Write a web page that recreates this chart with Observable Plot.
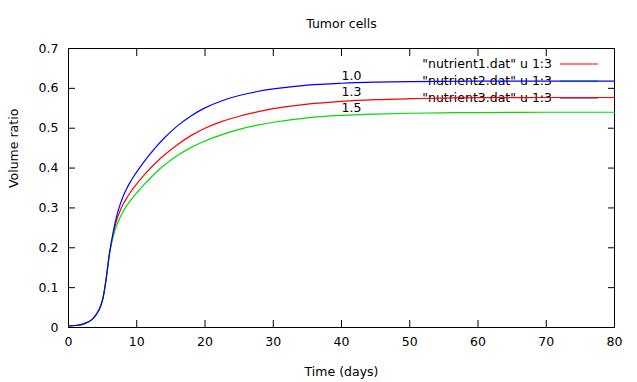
<!DOCTYPE html>
<html><head><meta charset="utf-8">
<script src="https://cdn.jsdelivr.net/npm/d3@7"></script>
<script src="https://cdn.jsdelivr.net/npm/@observablehq/plot@0.6"></script>
<style>body{margin:0;background:#fff} #chart svg{font-family:"DejaVu Sans",sans-serif;}</style>
</head><body><div id="chart"></div>
<script>
const title = "Tumor cells";
const xLabel = "Time (days)";
const yLabel = "Volume ratio";
const time = [0,1,2,2.5,3,3.5,4,4.5,5,5.5,6,6.5,7,7.5,8,8.5,9,9.5,10,11,12,13,14,16,18,20,22.5,25,27.5,30,35,40,45,50,55,60,70,80];
// red curve (middle)
const nutrient1 = [0.004,0.005,0.008,0.011,0.015,0.021,0.031,0.045,0.07,0.12,0.185,0.23,0.2665,0.2905,0.309,0.324,0.3375,0.3495,0.3605,0.3808,0.3995,0.4165,0.432,0.459,0.482,0.5,0.517,0.53,0.5405,0.549,0.5605,0.5675,0.5717,0.574,0.5755,0.5765,0.577,0.577];
// green curve (bottom)
const nutrient2 = [0.004,0.005,0.008,0.011,0.015,0.021,0.031,0.045,0.07,0.12,0.185,0.225,0.253,0.274,0.291,0.305,0.317,0.328,0.338,0.357,0.375,0.392,0.407,0.432,0.452,0.468,0.484,0.497,0.507,0.515,0.526,0.532,0.5355,0.5375,0.5387,0.5393,0.54,0.54];
// blue curve (top)
const nutrient3 = [0.004,0.005,0.008,0.011,0.015,0.021,0.031,0.045,0.07,0.12,0.185,0.235,0.275,0.305,0.3285,0.3475,0.3635,0.3775,0.3905,0.4145,0.4365,0.4565,0.4747,0.5065,0.5315,0.551,0.569,0.582,0.5915,0.5985,0.608,0.6128,0.6155,0.617,0.6177,0.618,0.618,0.618];
const seriesNames = ['"nutrient1.dat" u 1:3','"nutrient2.dat" u 1:3','"nutrient3.dat" u 1:3'];
const seriesColors = ["#ff0000","#00dd00","#0000ff"];
const labelTexts = ["1.0","1.3","1.5"];
const labelX = [40,40,40];
const labelY = [0.63,0.59,0.551];
const xTicks = [0,10,20,30,40,50,60,70,80];
const yTicks = [0,0.1,0.2,0.3,0.4,0.5,0.6,0.7];

const seriesValues = [nutrient1, nutrient2, nutrient3];
const data = seriesValues.flatMap((vals, i) => vals.map((v, j) => ({t: time[j], v, s: seriesNames[i]})));
const labels = labelTexts.map((text, i) => ({text, x: labelX[i], y: labelY[i]}));
const fmt = d => String(+d.toFixed(1));
const tick = 7;
const fs = 12.5;

const plot = Plot.plot({
  width: 637, height: 382,
  marginLeft: 68, marginRight: 23, marginTop: 48, marginBottom: 55,
  style: {fontSize: fs + "px", fontFamily: "DejaVu Sans, sans-serif", color: "#000", background: "#fff"},
  x: {domain: [0, 80]},
  y: {domain: [0, 0.7]},
  color: {domain: seriesNames, range: seriesColors},
  marks: [
    Plot.axisX(xTicks, {anchor: "bottom", tickSize: 0, tickPadding: 10, tickFormat: fmt, label: null, fontSize: fs}),
    Plot.axisX(xTicks, {anchor: "bottom", tickSize: -tick, text: null, label: null}),
    Plot.axisX(xTicks, {anchor: "top", tickSize: -tick, text: null, label: null}),
    Plot.axisY(yTicks, {anchor: "left", tickSize: 0, tickPadding: 10, tickFormat: fmt, label: null, fontSize: fs}),
    Plot.axisY(yTicks, {anchor: "left", tickSize: -tick, text: null, label: null}),
    Plot.axisY(yTicks, {anchor: "right", tickSize: -tick, text: null, label: null}),
    Plot.frame({stroke: "#000", strokeWidth: 1}),
    Plot.text(labels, {x: "x", y: "y", text: "text", textAnchor: "start", fontSize: fs, fill: "#000"}),
    Plot.line(data, {x: "t", y: "v", stroke: "s", z: "s", curve: "catmull-rom", strokeWidth: 1.2}),
    Plot.text([title], {frameAnchor: "top", lineAnchor: "middle", dy: -25, text: d => d, fontSize: fs}),
    Plot.text([xLabel], {frameAnchor: "bottom", lineAnchor: "middle", dy: 44, text: d => d, fontSize: fs}),
    Plot.text([yLabel], {frameAnchor: "left", lineAnchor: "middle", dx: -55, rotate: -90, text: d => d, fontSize: fs})
  ]
});
document.getElementById("chart").append(plot);

// legend (gnuplot key, top right inside frame), inserted beneath the curves
const svg = d3.select(plot);
const fx1 = 637 - 23;
const g = svg.insert("g", 'g[aria-label="line"]').attr("font-size", fs);
seriesNames.forEach((name, i) => {
  const yy = 48 + 16 + i * 17;
  g.append("text").attr("x", fx1 - 62).attr("y", yy).attr("dy", "0.35em").attr("text-anchor", "end").attr("fill", "#000").text(name);
  g.append("line").attr("x1", fx1 - 54).attr("x2", fx1 - 16).attr("y1", yy).attr("y2", yy).attr("stroke", seriesColors[i]).attr("stroke-width", 1.2);
});
</script>
</body></html>
